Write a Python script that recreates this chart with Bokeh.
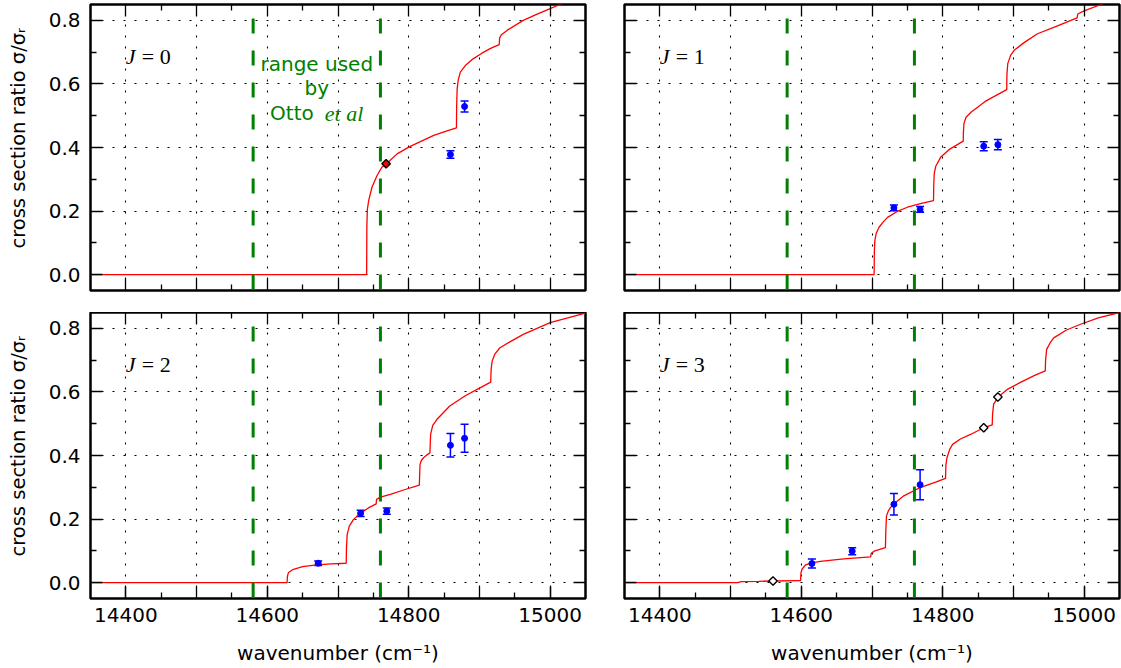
import numpy as np
from bokeh.plotting import figure
from bokeh.models import (FixedTicker, LinearAxis, Span, Label, Whisker, TeeHead,
                          ColumnDataSource, Range1d, NumeralTickFormatter,
                          CustomLabelingPolicy)
from bokeh.layouts import column, row
from bokeh.embed import file_html
from bokeh.resources import INLINE

# ---------------- data ----------------
X_RANGE = (14350, 15050)
Y_RANGE = (-0.05, 0.85)
x_major = [14400, 14500, 14600, 14700, 14800, 14900, 15000]
x_minor = [14450, 14550, 14650, 14750, 14850, 14950]
x_labeled = [14400, 14600, 14800, 15000]
y_major = [0.0, 0.2, 0.4, 0.6, 0.8]
y_minor = [0.1, 0.3, 0.5, 0.7]
otto_range = [14580, 14760]

panel_titles = ["0", "1", "2", "3"]

# model curves (red)
curve0_x = [14350, 14740.5, 14740.8, 14741.5, 14743.4, 14748, 14755.3, 14762, 14768.4, 14783.6,
            14800, 14818, 14835.4, 14852, 14867.5, 14867.8, 14868.5, 14870, 14873, 14880,
            14891, 14903, 14915, 14928, 14928.6, 14931, 14940, 14962, 14980, 15000, 15014, 15030]
curve0_y = [0.0, 0.0, 0.15, 0.205, 0.233, 0.275, 0.312, 0.338, 0.349, 0.380,
            0.401, 0.420, 0.438, 0.451, 0.462, 0.53, 0.585, 0.612, 0.637, 0.658,
            0.679, 0.696, 0.711, 0.724, 0.745, 0.755, 0.770, 0.800, 0.818, 0.837, 0.850, 0.865]

curve1_x = [14350, 14703, 14703.3, 14704, 14706, 14710, 14716, 14722, 14735, 14750,
            14770, 14787, 14787.3, 14788, 14790, 14797, 14810, 14829, 14829.3, 14830,
            14833, 14840, 14860, 14890.5, 14890.8, 14892, 14896, 14901, 14915, 14934,
            14958, 14990, 14991, 15000, 15024, 15040]
curve1_y = [0.0, 0.0, 0.07, 0.107, 0.13, 0.149, 0.166, 0.180, 0.198, 0.212,
            0.224, 0.233, 0.28, 0.317, 0.34, 0.369, 0.395, 0.420, 0.45, 0.475,
            0.495, 0.511, 0.545, 0.582, 0.63, 0.664, 0.69, 0.706, 0.730, 0.758,
            0.779, 0.808, 0.82, 0.830, 0.850, 0.862]

curve2_x = [14350, 14628, 14628.5, 14630, 14637, 14650, 14670, 14690, 14711.6, 14712,
            14713, 14716, 14722, 14731, 14743, 14754, 14754.5, 14760, 14774, 14795,
            14815, 14815.5, 14816, 14818, 14821, 14826, 14830, 14830.5, 14831, 14834,
            14840, 14858, 14880, 14900, 14916, 14916.5, 14918, 14922, 14929, 14945,
            14962, 15000, 15050]
curve2_y = [0.0, 0.0, 0.02, 0.032, 0.042, 0.050, 0.056, 0.059, 0.061, 0.11,
            0.152, 0.178, 0.199, 0.217, 0.235, 0.248, 0.262, 0.269, 0.278, 0.293,
            0.307, 0.34, 0.372, 0.385, 0.393, 0.402, 0.409, 0.44, 0.467, 0.495,
            0.514, 0.556, 0.588, 0.612, 0.631, 0.67, 0.697, 0.72, 0.739, 0.760,
            0.781, 0.818, 0.848]

curve3_x = [14350, 14510, 14515, 14540, 14560, 14598, 14599, 14599.5, 14601, 14606,
            14615, 14627, 14660, 14698, 14699, 14703, 14719, 14719.5, 14720.5, 14723,
            14726, 14735, 14745, 14769, 14790, 14804, 14804.5, 14806, 14810, 14814,
            14825, 14840, 14858.5, 14870, 14870.5, 14872, 14879, 14892, 14910, 14930,
            14945, 14945.5, 14947, 14952, 14957, 14975, 14995, 15020, 15050]
curve3_y = [0.0, 0.0, 0.003, 0.004, 0.005, 0.006, 0.006, 0.03, 0.042, 0.056,
            0.062, 0.067, 0.075, 0.081, 0.092, 0.099, 0.110, 0.16, 0.210, 0.225,
            0.236, 0.255, 0.273, 0.300, 0.316, 0.328, 0.37, 0.393, 0.42, 0.435,
            0.452, 0.467, 0.488, 0.496, 0.53, 0.562, 0.585, 0.609, 0.630, 0.652,
            0.666, 0.70, 0.734, 0.755, 0.770, 0.795, 0.813, 0.833, 0.850]

# measurements (blue) with errors
meas0_x = [14859, 14879]
meas0_y = [0.378, 0.529]
meas0_e = [0.012, 0.017]
meas1_x = [14731, 14768, 14858, 14878]
meas1_y = [0.210, 0.205, 0.404, 0.409]
meas1_e = [0.009, 0.009, 0.014, 0.016]
meas2_x = [14672, 14732, 14769, 14859, 14879]
meas2_y = [0.061, 0.218, 0.225, 0.432, 0.454]
meas2_e = [0.007, 0.010, 0.010, 0.037, 0.044]
meas3_x = [14615, 14672, 14731, 14768]
meas3_y = [0.060, 0.099, 0.2465, 0.308]
meas3_e = [0.014, 0.011, 0.034, 0.047]

# diamond markers
diam0_x = [14768]
diam0_y = [0.349]
diam3_x = [14560, 14858, 14878]
diam3_y = [0.005, 0.487, 0.584]

# ---------------- styling ----------------
FONT = "DejaVu Sans"
FRAME_W, FRAME_H = 495, 286
GREEN = "#008000"

HIDE_ALL = "for (const i of indices) indices.unset(i)"


def style_axis(ax, ticker, show_labels, fmt="0"):
    ax.ticker = ticker
    ax.axis_line_color = None
    ax.major_tick_in = 12
    ax.major_tick_out = 0
    ax.minor_tick_in = 6
    ax.minor_tick_out = 0
    ax.major_tick_line_color = "black"
    ax.minor_tick_line_color = "black"
    ax.major_tick_line_width = 1.3
    ax.minor_tick_line_width = 1.3
    ax.formatter = NumeralTickFormatter(format=fmt)
    ax.major_label_text_font = FONT
    ax.major_label_text_color = "black"
    if show_labels:
        ax.major_label_text_font_size = "20px"
    else:
        ax.major_label_text_font_size = "0px"
        ax.major_label_policy = CustomLabelingPolicy(code=HIDE_ALL)
        ax.major_label_standoff = 0


def make_panel(idx, cx, cy, mx, my, me, dx, dy, dfill, left, bottom):
    top = not bottom
    p = figure(frame_width=FRAME_W, frame_height=FRAME_H,
               x_range=Range1d(*X_RANGE), y_range=Range1d(*Y_RANGE),
               output_backend="svg", toolbar_location=None,
               min_border_left=90 if left else 20,
               min_border_right=19 if left else 2,
               min_border_top=4 if top else 0,
               min_border_bottom=70 if bottom else 22)
    p.background_fill_color = "white"
    p.border_fill_color = "white"
    p.outline_line_color = "black"
    p.outline_line_width = 2.5

    xt = FixedTicker(ticks=x_major, minor_ticks=x_minor)
    yt = FixedTicker(ticks=y_major, minor_ticks=y_minor)

    # bottom: all ticks, no labels (closest to frame)
    xa = p.xaxis[0]
    style_axis(xa, xt, False)
    if bottom:
        lab = LinearAxis()
        style_axis(lab, FixedTicker(ticks=x_labeled, minor_ticks=[]), True, "0")
        lab.major_label_standoff = 9
        lab.axis_label = "wavenumber (cm\u207b\u00b9)"
        lab.axis_label_text_font = FONT
        lab.axis_label_text_font_size = "20px"
        lab.axis_label_text_font_style = "normal"
        lab.axis_label_text_color = "black"
        lab.axis_label_standoff = 16
        p.add_layout(lab, "below")

    ya = p.yaxis[0]
    style_axis(ya, yt, left, "0.0")
    if left:
        ya.major_label_standoff = 10
        ya.axis_label = "\u00a0\u00a0\u00a0cross section ratio \u03c3/\u03c3\u1d63"
        ya.axis_label_text_font = FONT
        ya.axis_label_text_font_size = "19.5px"
        ya.axis_label_text_font_style = "normal"
        ya.axis_label_text_color = "black"
        ya.axis_label_standoff = 16

    ax_top = LinearAxis()
    style_axis(ax_top, xt, False)
    p.add_layout(ax_top, "above")
    ax_right = LinearAxis()
    style_axis(ax_right, yt, False)
    p.add_layout(ax_right, "right")

    p.xgrid.ticker = xt
    p.ygrid.ticker = yt
    for g in (p.xgrid[0], p.ygrid[0]):
        g.grid_line_color = "black"
        g.grid_line_dash = "2 9"
        g.grid_line_width = 1.1

    for xv in otto_range:
        p.add_layout(Span(location=xv, dimension="height", line_color=GREEN,
                          line_width=3, line_dash="15 17", line_dash_offset=18,
                          level="glyph"))

    p.line(cx, cy, line_color="#ff0000", line_width=1.3)

    src = ColumnDataSource(dict(x=mx, y=my,
                                lower=[a - b for a, b in zip(my, me)],
                                upper=[a + b for a, b in zip(my, me)]))
    p.add_layout(Whisker(source=src, base="x", lower="lower", upper="upper",
                         dimension="height", line_color="blue", line_width=1.5,
                         upper_head=TeeHead(size=8, line_color="blue", line_width=1.5),
                         lower_head=TeeHead(size=8, line_color="blue", line_width=1.5)))
    p.scatter("x", "y", source=src, marker="circle", size=6,
              fill_color="blue", line_color="blue")

    if dx:
        p.scatter(dx, dy, marker="square", angle=np.pi / 4, size=6,
                  fill_color=dfill, line_color="black", line_width=1.4)

    # J label
    p.add_layout(Label(x=14400, y=0.685, text="J", text_font="Liberation Serif",
                       text_font_style="italic", text_font_size="22px",
                       text_color="black", text_baseline="alphabetic", text_align="left"))
    p.add_layout(Label(x=14400, y=0.685, x_offset=16, text="= " + panel_titles[idx],
                       text_font="Liberation Serif", text_font_size="22px",
                       text_color="black", text_baseline="alphabetic", text_align="left"))
    return p


p1 = make_panel(0, curve0_x, curve0_y, meas0_x, meas0_y, meas0_e, diam0_x, diam0_y, "#ff0000", True, False)
p2 = make_panel(1, curve1_x, curve1_y, meas1_x, meas1_y, meas1_e, [], [], None, False, False)
p3 = make_panel(2, curve2_x, curve2_y, meas2_x, meas2_y, meas2_e, [], [], None, True, True)
p4 = make_panel(3, curve3_x, curve3_y, meas3_x, meas3_y, meas3_e, diam3_x, diam3_y, "white", False, True)

# "range used by Otto et al" annotation in panel J=0
xc = sum(otto_range) / 2
for txt, yy in [("range used", 0.664), ("by", 0.587)]:
    p1.add_layout(Label(x=xc, y=yy, text=txt, text_font=FONT, text_font_size="20px",
                        text_color=GREEN, text_align="center", text_baseline="alphabetic"))
p1.add_layout(Label(x=xc, y=0.508, x_offset=-3, text="Otto", text_font=FONT, text_font_size="20px",
                    text_color=GREEN, text_align="right", text_baseline="alphabetic"))
p1.add_layout(Label(x=xc, y=0.508, x_offset=8, text="et al", text_font="Liberation Serif",
                    text_font_style="italic", text_font_size="22px",
                    text_color=GREEN, text_align="left", text_baseline="alphabetic"))

layout = column(row(p1, p2), row(p3, p4))
open("out.html", "w").write(file_html(layout, INLINE))
